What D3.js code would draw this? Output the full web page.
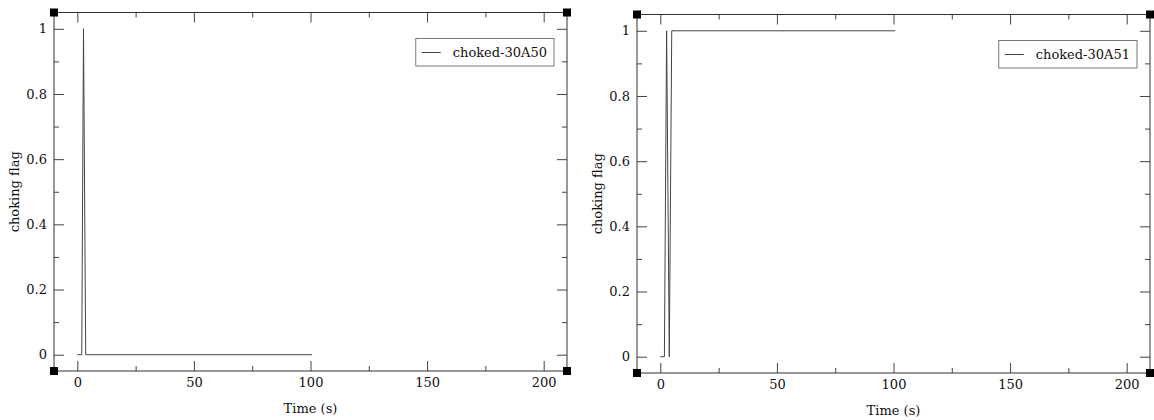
<!DOCTYPE html>
<html>
<head>
<meta charset="utf-8">
<script src="https://cdn.jsdelivr.net/npm/d3@7/dist/d3.min.js"></script>
<style>
  body { margin: 0; background: #fff; }
  svg text { font-family: "DejaVu Serif", serif; font-size: 13px; fill: #111; }
</style>
</head>
<body>
<svg id="chart" width="1154" height="420"></svg>
<script>
// data
var names = ["choked-30A50", "choked-30A51"];
var time50 = [0, 1.9, 2.65, 3.6, 100.7];
var flag50 = [0, 0, 1, 0, 0];
var time51 = [0, 1.75, 2.7, 3.85, 4.9, 100.7];
var flag51 = [0, 0, 1, 0, 1, 1];
var xMajor = [0, 50, 100, 150, 200];
var xMinor = [25, 75, 125, 175];
var yMajor = [0, 0.2, 0.4, 0.6, 0.8, 1];
var yMinor = [0.1, 0.3, 0.5, 0.7, 0.9];

var svg = d3.select("#chart");
var W = 513, H = 358.5;

function drawPanel(left, top, times, flags, name) {
    var g = svg.append("g").attr("transform", "translate(" + left + "," + top + ")");
    var x = d3.scaleLinear().domain([-10, 210]).range([0, W]);
    var y = d3.scaleLinear().domain([-0.05, 1.05]).range([H, 0]);

    // ticks, all pointing inward
    function ax(axis, vals, size, fmt, tr) {
        var a = g.append("g").attr("transform", tr)
            .call(axis.tickValues(vals).tickSize(size).tickPadding(7).tickFormat(fmt));
        a.select(".domain").remove();
        a.selectAll("line").attr("stroke", "#444");
        a.selectAll("text").attr("font-family", null).attr("font-size", null).attr("fill", "#111");
        return a;
    }
    var fmt = d3.format("~g");
    ax(d3.axisBottom(x), xMajor, -10, fmt, "translate(0," + H + ")");
    ax(d3.axisBottom(x), xMinor, -5, "", "translate(0," + H + ")");
    ax(d3.axisTop(x), xMajor, -10, "", null);
    ax(d3.axisTop(x), xMinor, -5, "", null);
    ax(d3.axisLeft(y), yMajor, -10, fmt, null);
    ax(d3.axisLeft(y), yMinor, -5, "", null);
    ax(d3.axisRight(y), yMajor, -10, "", "translate(" + W + ",0)");
    ax(d3.axisRight(y), yMinor, -5, "", "translate(" + W + ",0)");

    // frame
    g.append("rect").attr("width", W).attr("height", H)
        .attr("fill", "none").attr("stroke", "#333").attr("stroke-width", 1);

    // corner squares
    [[0, 0], [W, 0], [0, H], [W, H]].forEach(function(c) {
        g.append("rect").attr("x", c[0] - 4).attr("y", c[1] - 4)
            .attr("width", 8).attr("height", 8).attr("fill", "#000");
    });

    // data
    var line = d3.line().x(function(d, i) { return x(times[i]); })
                        .y(function(d) { return y(d); });
    g.append("path").datum(flags).attr("d", line)
        .attr("fill", "none").attr("stroke", "#444").attr("stroke-width", 1);

    // legend
    var lg = g.append("g").attr("transform", "translate(" + (W - 154) + ",26)");
    var txt = lg.append("text").attr("x", 37).attr("y", 18).text(name);
    var tw = txt.node().getComputedTextLength();
    lg.insert("rect", "text").attr("width", tw + 44).attr("height", 27.5)
        .attr("fill", "#fff").attr("stroke", "#777");
    lg.append("line").attr("x1", 6).attr("x2", 25).attr("y1", 14).attr("y2", 14)
        .attr("stroke", "#444");
    lg.attr("transform", "translate(" + (W - 13 - (tw + 44)) + ",26)");

    // axis titles
    g.append("text").attr("x", W / 2).attr("y", H + 42).attr("text-anchor", "middle")
        .text("Time (s)");
    g.append("text").attr("transform", "translate(" + (-35) + "," + (H / 2) + ") rotate(-90)")
        .attr("text-anchor", "middle").text("choking flag");
}

drawPanel(54, 12.5, time50, flag50, names[0]);
drawPanel(637, 14.5, time51, flag51, names[1]);
</script>
</body>
</html>
